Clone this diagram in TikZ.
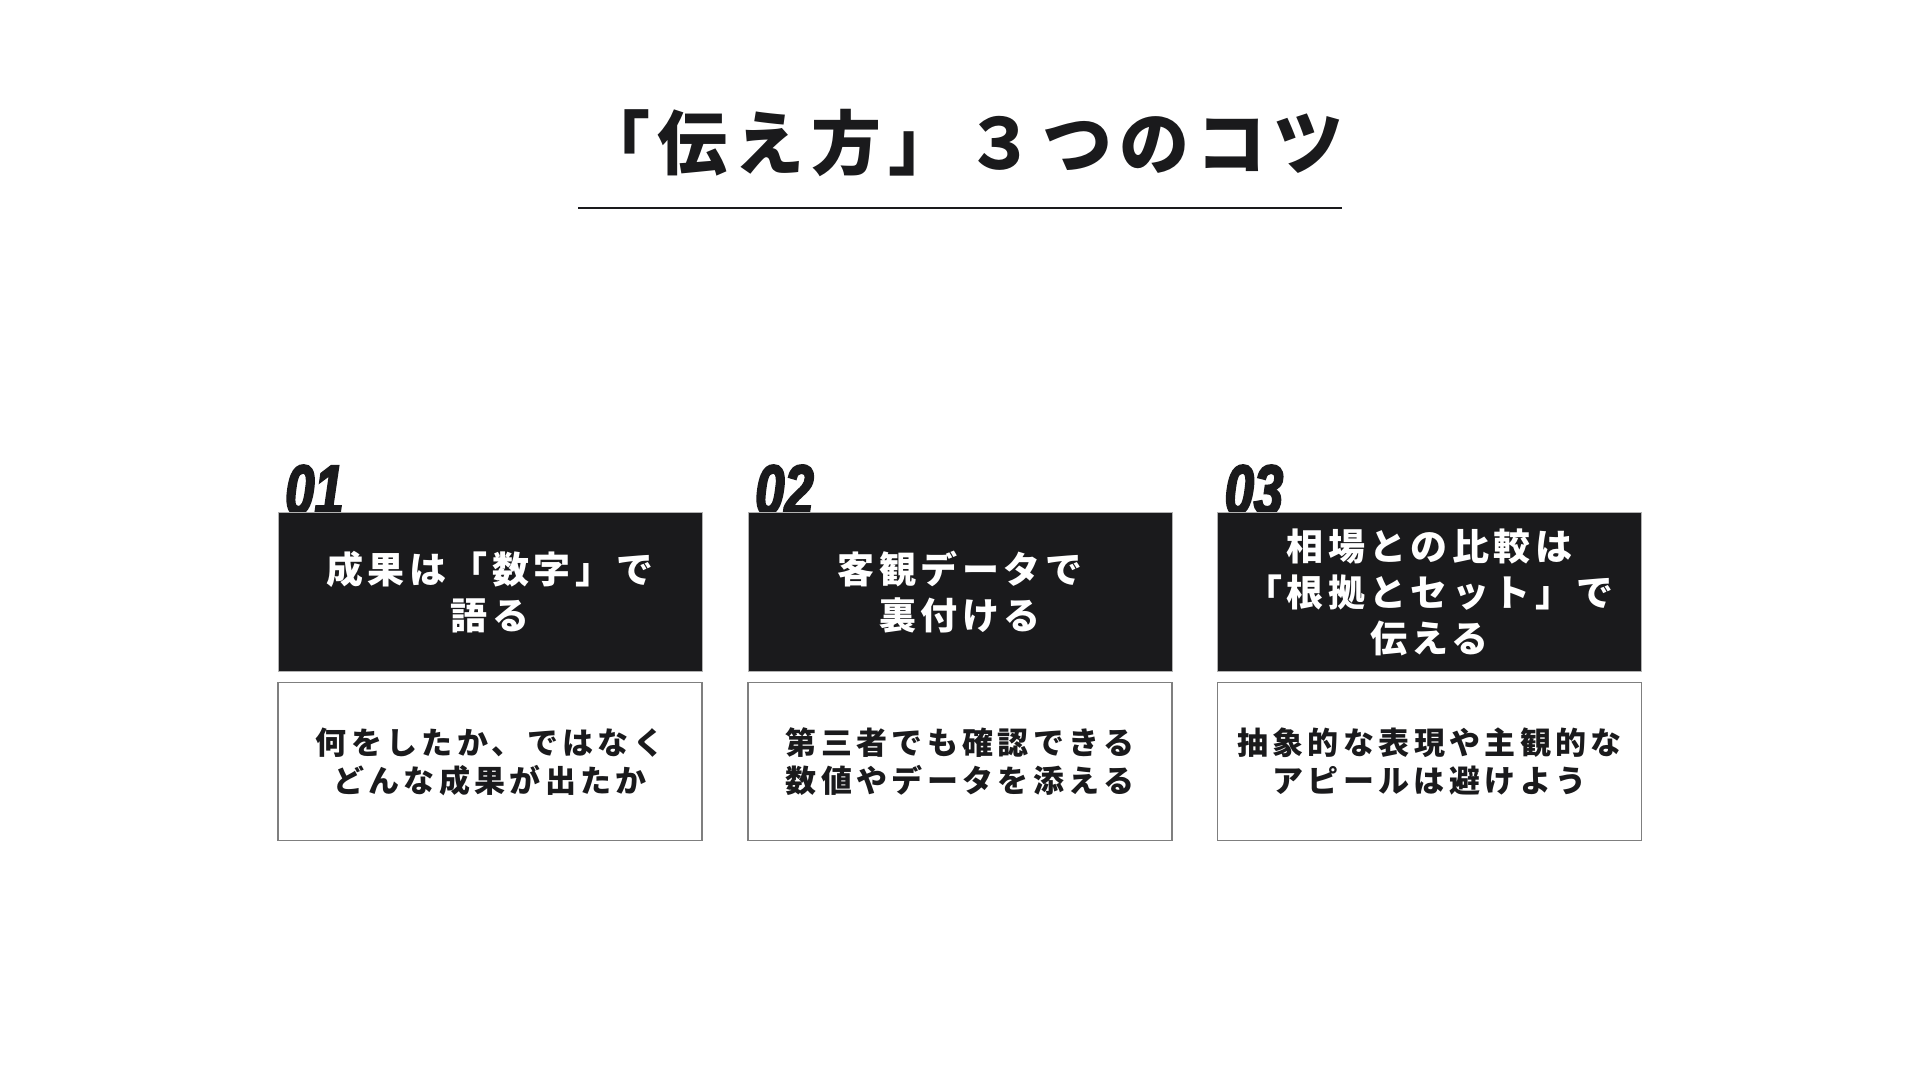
\documentclass[tikz,border=0pt]{standalone}
\usepackage{fontspec}
\setmainfont{Noto Sans CJK JP}
\newfontfamily\titlefont{Noto Sans CJK JP}[LetterSpace=10]
\newfontfamily\cardfont{Noto Sans CJK JP}[LetterSpace=12]
\newfontfamily\notefont{Noto Sans CJK JP}[LetterSpace=14]
\newfontfamily\numfont{Liberation Sans}[FakeStretch=0.75, FakeBold=3]
\usetikzlibrary{positioning}
\definecolor{inkblack}{HTML}{1A1A1C}
\definecolor{framegray}{HTML}{7F7F7F}
\tikzset{
  headbox/.style={rectangle, fill=inkblack, draw=framegray!60, line width=0.8pt,
    minimum width=424pt, minimum height=159pt, inner sep=0pt, text=white,
    align=center, font=\cardfont\bfseries\fontsize{37}{46}\selectfont},
  notebox/.style={rectangle, fill=white, draw=framegray, line width=1.5pt,
    minimum width=424pt, minimum height=158pt, inner sep=0pt, text=inkblack,
    align=center, font=\notefont\bfseries\fontsize{31}{38}\selectfont},
  numlabel/.style={anchor=base west, inner sep=0pt, text=inkblack,
    font=\numfont\bfseries\itshape\fontsize{70}{70}\selectfont}
}

\begin{document}
\begin{tikzpicture}[x=1pt, y=-1pt]
      \useasboundingbox (0, 0) rectangle (1920, 1080);

      \node (title) at (962, 143) [text=inkblack, inner sep=0pt,
        font=\titlefont\bfseries\fontsize{70}{70}\selectfont] {「伝え方」３つのコツ};
      \coordinate (rule west) at (578, 208);
      \coordinate (rule east) at (1342, 208);
      \draw [line width=2pt, inkblack] (rule west)--(rule east);

      \node (num1) at (285, 514) [numlabel] {01};
      \node (num2) at (755, 514) [numlabel] {02};
      \node (num3) at (1224.5, 514) [numlabel] {03};

      \node (head1) at (490, 592) [headbox] {成果は「数字」で\\語る};
      \node (head2) at (960, 592) [headbox] {客観データで\\裏付ける};
      \node (head3) at (1429.5, 592) [headbox] {相場との比較は\\「根拠とセット」で\\伝える};

      \node (note1) [notebox, below=10pt of head1] {何をしたか、ではなく\\どんな成果が出たか};
      \node (note2) [notebox, below=10pt of head2] {第三者でも確認できる\\数値やデータを添える};
      \node (note3) [notebox, below=10pt of head3] {抽象的な表現や主観的な\\アピールは避けよう};
    \end{tikzpicture}
\end{document}
